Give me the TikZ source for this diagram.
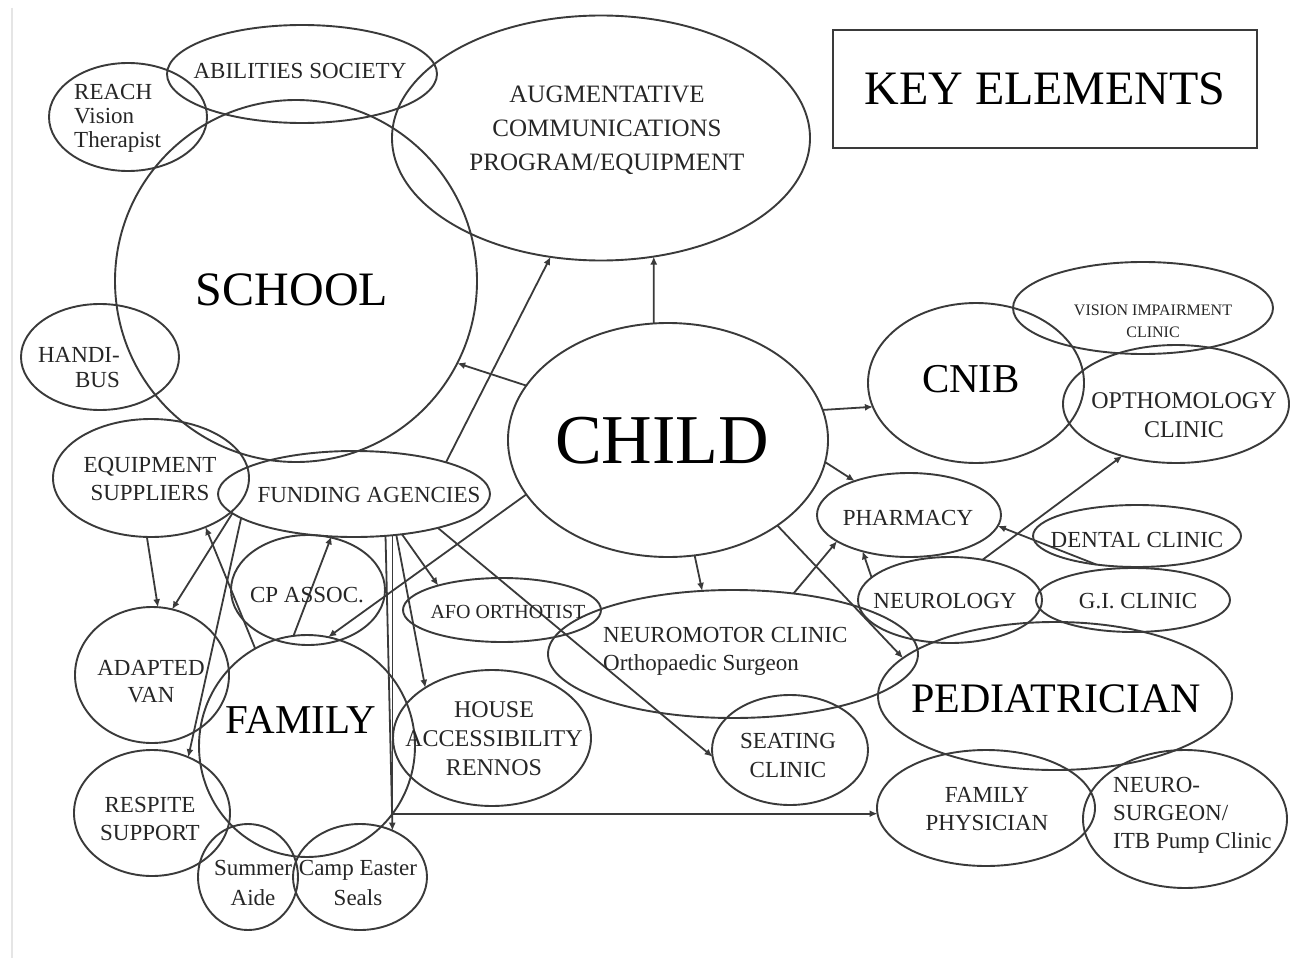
\documentclass[tikz,border=0pt]{standalone}
\usepackage{fontspec}
\setmainfont{Liberation Serif}
\usetikzlibrary{shapes.geometric,arrows.meta}
\definecolor{ln}{HTML}{3A3A3A}
\definecolor{tx}{HTML}{262626}
\newcommand{\mlc}[1]{\begin{tabular}[b]{@{}c@{}}#1\end{tabular}}
\newcommand{\mll}[1]{\begin{tabular}[b]{@{}l@{}}#1\end{tabular}}
\newcommand{\mlr}[1]{\begin{tabular}[b]{@{}r@{}}#1\end{tabular}}
\tikzset{
  ell/.style={draw=ln, line width=1.9pt, ellipse, inner sep=0pt, outer sep=0pt},
  arr/.style={draw=ln, line width=1.8pt, -{Latex[length=8pt,width=7pt]}},
  lbl/.style={text=tx, inner sep=0pt, font=\fontsize{23}{28}\selectfont},
  big/.style={text=black, inner sep=0pt},
}
\begin{document}
\begin{tikzpicture}[x=1pt,y=-1pt]
\fill[white] (0,0) rectangle (1291,958);
\useasboundingbox (0,0) rectangle (1291,958);
\draw[line width=2.5pt, black!10] (12,8) -- (12,958);

% ellipses
\node[ell, minimum width=270pt, minimum height=98pt]  (abil)    at (302,74)   {};
\node[ell, minimum width=158pt, minimum height=108pt] (reach)   at (128,117)  {};
\node[ell, minimum width=362pt, minimum height=362pt] (school)  at (296,281)  {};
\node[ell, minimum width=418pt, minimum height=245pt] (aug)     at (601,138)  {};
\node[ell, minimum width=320pt, minimum height=234pt] (child)   at (668,440)  {};
\node[ell, minimum width=196pt, minimum height=118pt] (equip)   at (151,478)  {};
\node[ell, minimum width=272pt, minimum height=86pt]  (fund)    at (354,494)  {};
\node[ell, minimum width=158pt, minimum height=106pt] (handi)   at (100,357)  {};
\node[ell, minimum width=154pt, minimum height=110pt] (cp)      at (308,590)  {};
\node[ell, minimum width=198pt, minimum height=64pt]  (afo)     at (502,610)  {};
\node[ell, minimum width=370pt, minimum height=128pt] (neuro)   at (733,654)  {};
\node[ell, minimum width=154pt, minimum height=136pt] (van)     at (152,675)  {};
\node[ell, minimum width=216pt, minimum height=222pt] (family)  at (307,746)  {};
\node[ell, minimum width=198pt, minimum height=136pt] (house)   at (492,738)  {};
\node[ell, minimum width=156pt, minimum height=126pt] (respite) at (152,813)  {};
\node[ell, minimum width=100pt, minimum height=106pt] (summer)  at (248,877)  {};
\node[ell, minimum width=134pt, minimum height=106pt] (camp)    at (360,877)  {};
\node[ell, minimum width=156pt, minimum height=110pt] (seating) at (790,750)  {};
\node[ell, minimum width=184pt, minimum height=84pt]  (pharm)   at (909,515)  {};
\node[ell, minimum width=216pt, minimum height=160pt] (cnib)    at (976,383)  {};
\node[ell, minimum width=260pt, minimum height=92pt]  (vision)  at (1143,308) {};
\node[ell, minimum width=226pt, minimum height=118pt] (optho)   at (1176,404) {};
\node[ell, minimum width=208pt, minimum height=62pt]  (dental)  at (1137,536) {};
\node[ell, minimum width=184pt, minimum height=86pt]  (neurol)  at (950,600)  {};
\node[ell, minimum width=194pt, minimum height=64pt]  (gi)      at (1133,600) {};
\node[ell, minimum width=354pt, minimum height=148pt] (pedia)   at (1055,696) {};
\node[ell, minimum width=218pt, minimum height=116pt] (fphys)   at (986,808)  {};
\node[ell, minimum width=204pt, minimum height=138pt] (nsurg)   at (1185,819) {};

\node[draw=ln, line width=1.9pt, minimum width=424pt, minimum height=118pt, inner sep=0pt,
      font=\fontsize{48}{50}\selectfont, text=black] (key) at (1045,89) {KEY ELEMENTS};

% connectors
\draw[arr] (child.159.5) -- (school.-27.7);
\draw[arr] (child.97.3) -- (aug.-66.7);
\draw[arr] (fund.19) -- (aug.247.6);
\draw[arr] (child.11.4) -- (cnib.193.3);
\draw[arr] (child.-8.3) -- (pharm.148);
\draw[arr] (child.-77.5) -- (neuro.116.6);
\draw[arr] (child.-38.3) -- (pedia.166.5);
\draw[arr] (neuro.45.4) -- (pharm.200.5);
\draw[arr] (neurol.164.3) -- (pharm.218.4);
\draw[arr] (neurol.51.8) -- (optho.224.5);
\draw[arr] (dental.215.2) -- (pharm.-7.5);
\draw[arr] (child.201.9) -- (family.79.9);
\draw[arr] (fund.-22.3) -- (seating.185.1);
\draw[arr] (fund.-40.1) -- (afo.159.6);
\draw[arr] (fund.-44.3) -- (house.143.7);
\draw[arr] (fund.-53.3) -- (camp.55);
\draw[arr] (fund.-47.8) |- (fphys.183);
\draw[arr] (equip.266.1) -- (van.85.8);
\draw[arr] (fund.189) -- (van.73.6);
\draw[arr] (family.118.7) -- (equip.-42);
\draw[arr] (family.97.1) -- (fund.242.4);
\draw[arr] (fund.192.2) -- (respite.57.7);

% labels
\node[lbl, anchor=base] (tabil) at (300,78) {ABILITIES SOCIETY};
\node[lbl, font=\fontsize{23}{24}\selectfont, anchor=base west] (treach) at (74,147) {\mll{REACH\\Vision\\Therapist}};
\node[big, font=\fontsize{48}{50}\selectfont, anchor=base] (tschool) at (292,305) {SCHOOL};
\node[lbl, font=\fontsize{25}{34}\selectfont, anchor=base] (taug) at (607,170) {\mlc{AUGMENTATIVE\\COMMUNICATIONS\\PROGRAM/EQUIPMENT}};
\node[lbl, font=\fontsize{23}{25}\selectfont, anchor=base east] (thandi) at (120,387) {\mlr{HANDI-\\BUS}};
\node[lbl, anchor=base] (tequip) at (150,500) {\mlc{EQUIPMENT\\SUPPLIERS}};
\node[lbl, anchor=base] (tfund) at (369,502) {FUNDING AGENCIES};
\node[lbl, anchor=base] (tcp) at (307,602) {CP ASSOC.};
\node[lbl, font=\fontsize{20}{24}\selectfont, anchor=base] (tafo) at (508,618) {AFO ORTHOTIST};
\node[lbl, anchor=base west] (tneuro) at (603,670) {\mll{NEUROMOTOR CLINIC\\Orthopaedic Surgeon}};
\node[lbl, font=\fontsize{23}{27}\selectfont, anchor=base] (tvan) at (151,702) {\mlc{ADAPTED\\VAN}};
\node[big, font=\fontsize{41}{44}\selectfont, anchor=base] (tfamily) at (301,733) {FAMILY};
\node[lbl, font=\fontsize{24}{29}\selectfont, anchor=base] (thouse) at (494,775) {\mlc{HOUSE\\ACCESSIBILITY\\RENNOS}};
\node[lbl, anchor=base] (trespite) at (150,840) {\mlc{RESPITE\\SUPPORT}};
\node[lbl, font=\fontsize{23}{30}\selectfont, anchor=base] (tsummer) at (253,905) {\mlc{Summer\\Aide}};
\node[lbl, font=\fontsize{23}{30}\selectfont, anchor=base] (tcamp) at (358,905) {\mlc{Camp Easter\\Seals}};
\node[lbl, font=\fontsize{23}{29}\selectfont, anchor=base] (tseat) at (788,777) {\mlc{SEATING\\CLINIC}};
\node[big, font=\fontsize{70}{72}\selectfont, anchor=base] (tchild) at (662,463) {CHILD};
\node[lbl, anchor=base] (tpharm) at (908,525) {PHARMACY};
\node[big, font=\fontsize{41}{44}\selectfont, anchor=base] (tcnib) at (971,392) {CNIB};
\node[lbl, font=\fontsize{16}{22}\selectfont, anchor=base] (tvision) at (1153,337) {\mlc{VISION IMPAIRMENT\\CLINIC}};
\node[lbl, font=\fontsize{24}{29}\selectfont, anchor=base] (toptho) at (1184,437) {\mlc{OPTHOMOLOGY\\CLINIC}};
\node[lbl, anchor=base] (tdental) at (1137,547) {DENTAL CLINIC};
\node[lbl, anchor=base] (tneurol) at (945,608) {NEUROLOGY};
\node[lbl, anchor=base] (tgi) at (1138,608) {G.I. CLINIC};
\node[big, font=\fontsize{42}{44}\selectfont, anchor=base] (tpedia) at (1056,712) {PEDIATRICIAN};
\node[lbl, anchor=base] (tfphys) at (987,830) {\mlc{FAMILY\\PHYSICIAN}};
\node[lbl, anchor=base west] (tnsurg) at (1113,848) {\mll{NEURO-\\SURGEON/\\ITB Pump Clinic}};
\end{tikzpicture}
\end{document}
